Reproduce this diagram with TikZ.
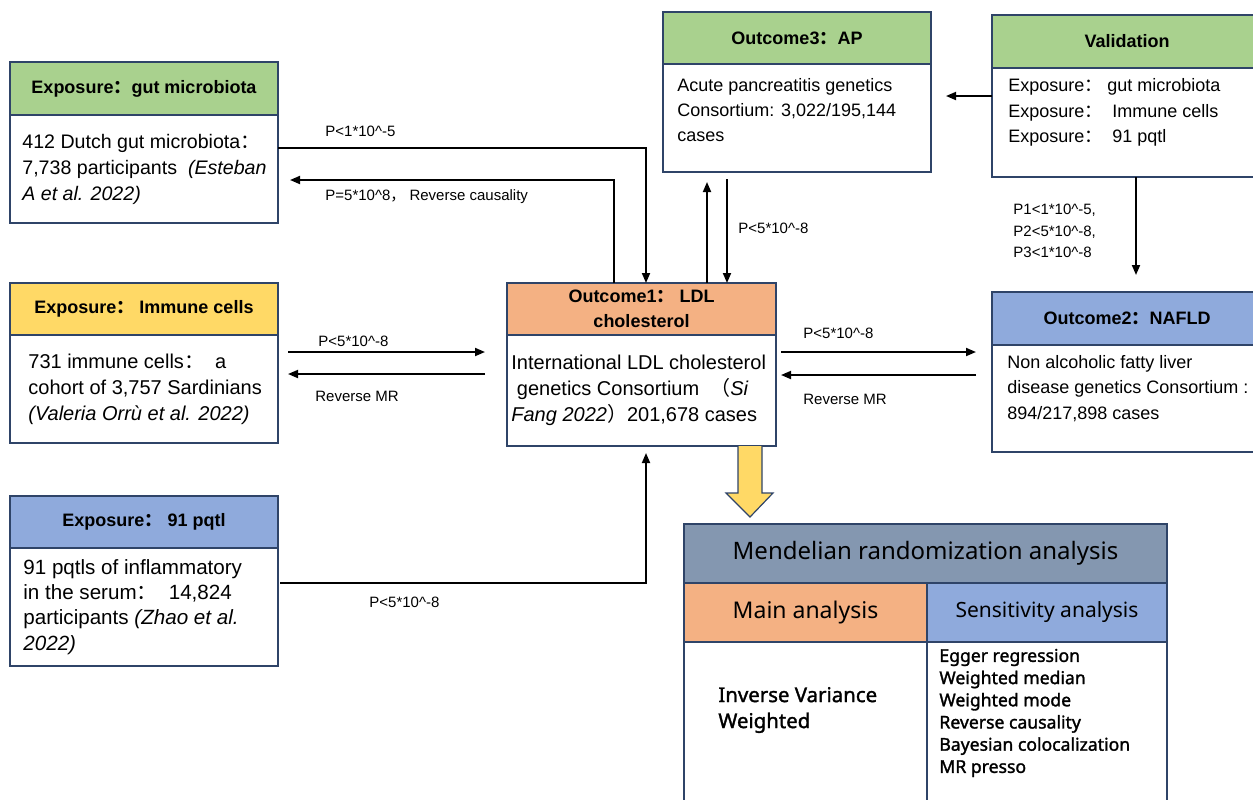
\documentclass[tikz,border=0pt]{standalone}
\usepackage{fontspec}
\setmainfont{Liberation Sans}
\newfontfamily\cjk{Noto Sans CJK SC}
\newfontfamily\tabfont{Noto Sans}
\newfontfamily\tabbold{Noto Sans}[FakeBold=1.6]
\usetikzlibrary{arrows.meta,calc,positioning}
\definecolor{boxline}{HTML}{2F4468}
\definecolor{hdgreen}{HTML}{A9D18E}
\definecolor{hdyellow}{HTML}{FFD966}
\definecolor{hdblue}{HTML}{8FAADC}
\definecolor{hdorange}{HTML}{F4B183}
\definecolor{mrslate}{HTML}{8497B0}
\newcommand{\fcolon}{{\cjk ：}}
\tikzset{
  hd/.style={draw=boxline, line width=0.75pt, outer sep=0pt, inner sep=0pt, anchor=north west, align=center,
    font=\fontsize{9}{12.5}\selectfont\bfseries},
  bd/.style={draw=boxline, line width=0.75pt, outer sep=0pt, inner sep=0pt, fill=white},
  txt/.style={inner sep=0pt, align=left, font=\fontsize{10}{13}\selectfont},
  rtxt/.style={txt, font=\fontsize{9}{12.6}\selectfont},
  lbl/.style={anchor=west, inner sep=0pt, align=left, font=\fontsize{7.5}{10.8}\selectfont},
  tb/.style={draw=boxline, line width=0.75pt, outer sep=0pt, inner sep=0pt},
  arr/.style={-{Triangle[length=5pt,width=4pt]}, line width=0.9pt},
}
\begin{document}
\begin{tikzpicture}[x=0.5pt,y=-0.5pt]
\useasboundingbox (0,0) rectangle (1253,799);

% exposures
\node[hd, fill=hdgreen, minimum width=134pt, minimum height=26.5pt] (gutH) at (10,62) {Exposure\fcolon gut microbiota};
\node[bd, minimum width=134pt, minimum height=54pt, below=0pt of gutH] (gutB) {};
\node[txt, right=6pt of gutB.west, font=\fontsize{9.8}{13}\selectfont] (gutT) {412 Dutch gut microbiota\fcolon\\7,738 participants \ \textit{(Esteban}\\\textit{A et al. 2022)}};

\node[hd, fill=hdyellow, minimum width=134pt, minimum height=26pt] (immH) at (10,283) {Exposure\fcolon\ Immune cells};
\node[bd, minimum width=134pt, minimum height=54pt, below=0pt of immH] (immB) {};
\node[txt, right=9pt of immB.west] (immT) {731 immune cells\fcolon\ \ a\\cohort of 3,757 Sardinians\\\textit{(Valeria Orrù et al. 2022)}};

\node[hd, fill=hdblue, minimum width=134pt, minimum height=26pt] (pqtH) at (10,496) {Exposure\fcolon\ 91 pqtl};
\node[bd, minimum width=134pt, minimum height=59pt, below=0pt of pqtH] (pqtB) {};
\node[txt, right=6.5pt of pqtB.west, font=\fontsize{10.3}{12.6}\selectfont] (pqtT) {91 pqtls of inflammatory\\in the serum\fcolon\ \ 14,824\\participants \textit{(Zhao et al.}\\\textit{2022)}};

% outcomes
\node[hd, fill=hdorange, minimum width=134.5pt, minimum height=26pt] (ctrH) at (507,283) {Outcome1\fcolon\ LDL\\cholesterol};
\node[bd, minimum width=134.5pt, minimum height=55.5pt, below=0pt of ctrH] (ctrB) {};
\node[txt, right=2pt of ctrB.west] (ctrT) {International LDL cholesterol\\\ genetics Consortium \ \textit{{\cjk （}Si}\\\textit{Fang 2022{\cjk ）}}201,678 cases};

\node[hd, fill=hdgreen, minimum width=134pt, minimum height=26pt] (apH) at (663,12) {Outcome3\fcolon AP};
\node[bd, minimum width=134pt, minimum height=54pt, below=0pt of apH] (apB) {};
\node[rtxt, right=7pt of apB.west, yshift=4pt] (apT) {Acute pancreatitis genetics\\Consortium: 3,022/195,144\\cases};

\node[hd, fill=hdgreen, minimum width=135pt, minimum height=26.5pt] (valH) at (992,15) {Validation};
\node[bd, minimum width=135pt, minimum height=54.5pt, below=0pt of valH] (valB) {};
\node[rtxt, right=8pt of valB.west, yshift=5pt] (valT) {Exposure\fcolon\ gut microbiota\\Exposure\fcolon\ \ Immune cells\\Exposure\fcolon\ \ 91 pqtl};

\node[hd, fill=hdblue, minimum width=135pt, minimum height=26.5pt] (nafH) at (992,292) {Outcome2\fcolon NAFLD};
\node[bd, minimum width=135pt, minimum height=53.5pt, below=0pt of nafH] (nafB) {};
\node[rtxt, right=7.5pt of nafB.west, yshift=5pt] (nafT) {Non alcoholic fatty liver\\disease genetics Consortium :\\894/217,898 cases};

% MR table
\node[tb, fill=mrslate, anchor=north west, minimum width=241.5pt, minimum height=29.5pt,
  font=\tabfont\fontsize{12}{14}\selectfont] (mrH) at (684,524) {Mendelian randomization analysis};
\node[tb, fill=hdorange, minimum width=121.5pt, minimum height=29.5pt, below right=0pt and 0pt of mrH.south west,
  font=\tabfont\fontsize{11.5}{14}\selectfont] (mainH) {Main analysis};
\node[tb, fill=hdblue, minimum width=120pt, minimum height=29.5pt, right=0pt of mainH,
  font=\tabfont\fontsize{10.5}{13}\selectfont] (sensH) {Sensitivity analysis};
\node[tb, fill=white, minimum width=121.5pt, minimum height=104pt, below=0pt of mainH] (mainB) {};
\node[tb, fill=white, minimum width=120pt, minimum height=104pt, below=0pt of sensH] (sensB) {};
\node[txt, anchor=west, font=\tabbold\fontsize{10.2}{13}\selectfont] (mainT) at ($(mainB.north west)+(34,68)$) {Inverse Variance\\Weighted};
\node[txt, anchor=west, font=\tabbold\fontsize{8.8}{11.1}\selectfont] (sensT) at ($(sensB.north west)+(12,71)$)
  {Egger regression\\Weighted median\\Weighted mode\\Reverse causality\\Bayesian colocalization\\MR presso};

% connectors
\draw[arr] ($(gutB.north east)+(0,33)$) -| ($(ctrH.north west)+(139,0)$);
\draw[arr] ($(ctrH.north west)+(107,0)$) |- ($(gutB.north east)+(12,65)$);
\draw[arr] ($(immB.north east)+(10,17)$) -- ($(ctrB.north west)+(-22,17)$);
\draw[arr] ($(ctrB.north west)+(-22,39)$) -- ($(immB.north east)+(10,39)$);
\draw[arr] ($(ctrH.north west)+(200,0)$) -- ($(apB.south west)+(44,10)$);
\draw[arr] ($(apB.south west)+(64,7)$) -- ($(ctrH.north west)+(220,0)$);
\draw[arr] ($(ctrB.north east)+(5,17)$) -- ($(nafB.north west)+(-16,7)$);
\draw[arr] ($(nafB.north west)+(-16,30)$) -- ($(ctrB.north east)+(5,40)$);
\draw[arr] ($(valB.north west)+(0,28)$) -- ($(apB.north east)+(15,32)$);
\draw[arr] ($(valB.south west)+(144,0)$) -- ($(nafH.north west)+(144,-17)$);
\draw[arr] ($(pqtB.north east)+(2,35)$) -| ($(ctrB.south west)+(139,7)$);

% yellow block arrow
\draw[draw=boxline, fill=hdyellow, line width=0.6pt] (738,446) -- (738,493) -- (726,493) -- (750,517)
  -- (773,493) -- (762,493) -- (762,446);

% labels
\node[lbl] (l1) at (325,131) {P<1*10\textasciicircum-5};
\node[lbl] (l2) at (325,197) {P=5*10\textasciicircum8{\cjk ，}\ Reverse causality};
\node[lbl] (l3) at (318,341) {P<5*10\textasciicircum-8};
\node[lbl] (l4) at (315,396) {Reverse MR};
\node[lbl] (l5) at (738,228) {P<5*10\textasciicircum-8};
\node[lbl] (l6) at (803,333) {P<5*10\textasciicircum-8};
\node[lbl] (l7) at (803,399) {Reverse MR};
\node[lbl] (l8) at (1013,231) {P1<1*10\textasciicircum-5,\\P2<5*10\textasciicircum-8,\\P3<1*10\textasciicircum-8};
\node[lbl] (l9) at (369,602) {P<5*10\textasciicircum-8};
\end{tikzpicture}
\end{document}
